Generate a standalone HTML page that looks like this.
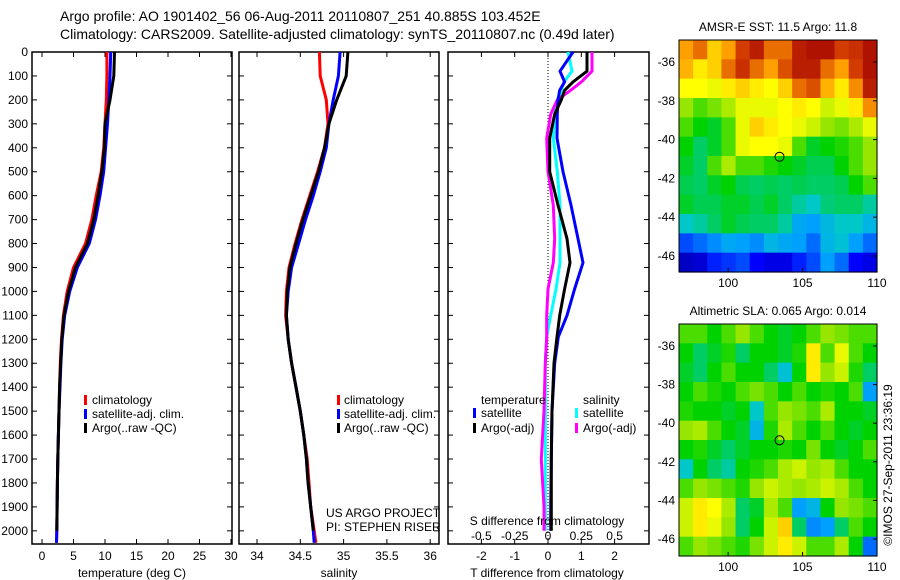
<!DOCTYPE html>
<html><head><meta charset="utf-8">
<style>
html,body{margin:0;padding:0;background:#fff;}
svg{display:block;font-family:"Liberation Sans",sans-serif;}
text{font-size:12px;fill:#000;}
.ttl{font-size:14px;}
</style></head>
<body>
<svg id="fig" width="900" height="580" viewBox="0 0 900 580">
<text class="ttl" x="60" y="21">Argo profile: AO 1901402_56 06-Aug-2011 20110807_251 40.885S 103.452E</text>
<text class="ttl" x="60" y="39">Climatology: CARS2009. Satellite-adjusted climatology: synTS_20110807.nc (0.49d later)</text>
<g id="maps"></g>
<g id="panels"></g>
<text x="0" y="0" transform="translate(892,465) rotate(-90)" text-anchor="middle">©IMOS 27-Sep-2011 23:36:19</text>
</svg>
<script>
// ---- profile data ----
const depth = [0,100,200,300,400,500,600,700,800,900,1000,1100,1200,1300,1400,1500,1600,1700,1800,1900,2000,2050];
const tempClim = [10.3,10.3,10.2,10.0,9.8,9.4,8.6,7.9,6.9,5.0,4.0,3.4,3.1,2.9,2.8,2.7,2.6,2.5,2.45,2.4,2.35,2.3];
const tempSat  = [10.9,10.8,10.6,10.4,10.1,9.8,9.2,8.5,7.5,5.6,4.4,3.6,3.2,3.0,2.85,2.7,2.6,2.5,2.45,2.4,2.35,2.3];
const tempArgo = [11.5,11.4,10.8,10.0,9.9,9.5,8.9,8.2,7.2,5.3,4.2,3.5,3.15,2.95,2.8,2.7,2.6,2.5,2.45,2.4,2.35,null];
const salClim = [34.72,34.73,34.80,34.82,34.78,34.70,34.61,34.52,34.44,34.37,34.34,34.33,34.36,34.40,34.45,34.50,34.54,34.58,34.60,34.62,34.66,34.68];
const salSat  = [34.96,34.94,34.88,34.83,34.80,34.73,34.65,34.56,34.48,34.40,34.36,34.34,34.36,34.40,34.45,34.50,34.54,34.57,34.59,34.62,34.65,34.66];
const salArgo = [35.05,35.03,34.92,34.83,34.78,34.71,34.62,34.53,34.45,34.38,34.35,34.34,34.36,34.40,34.45,34.50,34.54,34.57,34.59,34.62,34.65,null];
const diffDepth = [0,80,125,160,200,260,360,500,640,780,880,990,1100,1190,1300,1500,1700,1900,2000];
const dTsat  = [0.75,0.36,0.5,0.35,0.3,0.28,0.27,0.45,0.69,0.9,1.05,0.8,0.57,0.31,0.2,0.12,0.1,0.08,0.08];
const dTargo = [1.17,1.17,0.75,0.5,0.4,0.2,0.05,0.05,0.3,0.57,0.66,0.5,0.35,0.27,0.18,0.12,0.1,0.1,0.1];
const dSsat  = [0.15,0.18,0.12,0.1,0.07,0.05,0.04,0.07,0.09,0.09,0.09,0.06,0.02,-0.01,-0.02,-0.02,-0.02,-0.02,-0.02];
const dSargo = [0.33,0.33,0.25,0.17,0.07,0.02,-0.01,0,0.04,0.05,0.04,0,-0.01,-0.01,-0.02,-0.03,-0.05,-0.03,-0.03];
const depthTicks = [0,100,200,300,400,500,600,700,800,900,1000,1100,1200,1300,1400,1500,1600,1700,1800,1900,2000];
const tempTicks = [0,5,10,15,20,25,30];
const salTicks = [34,34.5,35,35.5,36];
const salTickLabels = ["34","34.5","35","35.5","36"];
const dTTicks = [-2,-1,0,1,2];
const dSTicks = [-0.5,-0.25,0,0.25,0.5];
const dSTickLabels = ["-0.5","-0.25","0","0.25","0.5"];
// ---- map data (colour index 0..1), rows north->south ----
const sstGrid = [
[.80,.85,.75,.80,.90,.95,.85,.85,.95,.97,.97,.90,.92,.97],
[.78,.72,.75,.85,.92,.85,.80,.88,.95,.95,.85,.80,.90,.97],
[.70,.70,.68,.72,.75,.72,.70,.75,.85,.88,.78,.72,.82,.95],
[.60,.55,.58,.62,.68,.68,.68,.70,.72,.70,.65,.68,.72,.82],
[.55,.50,.48,.55,.68,.75,.72,.70,.68,.65,.60,.58,.62,.68],
[.50,.45,.48,.55,.68,.70,.70,.68,.55,.48,.50,.52,.55,.60],
[.48,.45,.55,.62,.55,.55,.52,.50,.48,.46,.46,.50,.55,.60],
[.46,.45,.48,.50,.46,.45,.46,.45,.46,.45,.45,.46,.50,.55],
[.48,.46,.46,.48,.48,.46,.48,.45,.42,.40,.44,.45,.45,.42],
[.40,.42,.45,.48,.46,.45,.45,.42,.32,.30,.36,.40,.40,.35],
[.22,.25,.28,.32,.30,.28,.35,.32,.30,.25,.35,.38,.30,.25],
[.08,.10,.18,.20,.22,.15,.12,.12,.18,.22,.30,.25,.15,.12]];
const slaGrid = [
[.55,.55,.50,.55,.60,.55,.50,.48,.50,.55,.60,.58,.55,.55],
[.50,.45,.48,.52,.45,.50,.50,.48,.52,.72,.55,.68,.55,.50],
[.48,.45,.50,.55,.50,.50,.45,.38,.50,.72,.60,.65,.52,.45],
[.50,.55,.52,.50,.55,.58,.55,.50,.55,.50,.52,.50,.55,.30],
[.52,.50,.50,.48,.50,.40,.55,.60,.58,.55,.62,.50,.50,.48],
[.60,.62,.55,.50,.48,.35,.52,.62,.55,.50,.55,.50,.48,.50],
[.50,.52,.48,.45,.48,.50,.50,.52,.50,.58,.50,.48,.50,.55],
[.40,.50,.45,.42,.50,.52,.55,.62,.65,.60,.62,.55,.50,.50],
[.55,.60,.58,.55,.52,.60,.65,.62,.60,.62,.65,.62,.55,.50],
[.65,.72,.70,.62,.45,.48,.62,.55,.30,.35,.50,.60,.58,.55],
[.65,.72,.68,.60,.45,.50,.65,.75,.45,.28,.30,.45,.55,.50],
[.55,.60,.58,.55,.52,.58,.65,.72,.65,.55,.55,.62,.50,.25]];
const lonTicks = [100,105,110];
const latTicks = [-36,-38,-40,-42,-44,-46];
const floatLon = 103.452, floatLat = -40.885;

const NS = "http://www.w3.org/2000/svg";
function mk(tag, attrs, parent){const e=document.createElementNS(NS,tag);for(const k in attrs)e.setAttribute(k,attrs[k]);parent.appendChild(e);return e;}
const panels = document.getElementById('panels');
const Y0=52, Y1=544, DMAX=2055;
const yD = d => Y0 + d/DMAX*(Y1-Y0);

function frame(g,x0,x1,xTicks,xs,labels,showDepth,rightTicks){
  const r=mk('rect',{x:x0,y:Y0,width:x1-x0,height:Y1-Y0,fill:'none',stroke:'#000','stroke-width':1.5},g);
  
  
  depthTicks.forEach(d=>{
    const y=yD(d);
    mk('line',{x1:x0,y1:y,x2:x0+5,y2:y,stroke:'#000'},g);
    mk('line',{x1:x1-5,y1:y,x2:x1,y2:y,stroke:'#000'},g);
    if(showDepth){
      const t=mk('text',{x:x0-4,y:y+4,'text-anchor':'end'},g);t.textContent=d;
      
      
    }
  });
  xTicks.forEach((v,i)=>{
    const x=xs(v);
    mk('line',{x1:x,y1:Y0,x2:x,y2:Y0+5,stroke:'#000'},g);
    mk('line',{x1:x,y1:Y1-5,x2:x,y2:Y1,stroke:'#000'},g);
    const t=mk('text',{x:x,y:560,'text-anchor':'middle'},g);t.textContent=labels[i];
    
    
  });
}
function line(g,xs,vals,deps,color,name){
  let pts=[];vals.forEach((v,i)=>{if(v!==null)pts.push(xs(v).toFixed(1)+','+yD(deps[i]).toFixed(1));});
  const p=mk('polyline',{points:pts.join(' '),fill:'none',stroke:color,'stroke-width':3,'stroke-linejoin':'round'},g);
  
  
}
function txt(g,x,y,s,name,anchor){const t=mk('text',{x:x,y:y,'text-anchor':anchor||'start'},g);t.textContent=s;
  
  return t;}
function mark(g,x,y,c){mk('rect',{x:x,y:y-9,width:3,height:10,fill:c},g);}

// Panel 1 temperature
const g1=mk('g',{},panels);


const xT=v=>42+v*6.3;
frame(g1,32,232,tempTicks,xT,tempTicks.map(String),true);
line(g1,xT,tempClim,depth,'#f00','temp-climatology-line');
line(g1,xT,tempSat,depth,'#00f','temp-satellite-line');
line(g1,xT,tempArgo,depth,'#000','temp-argo-line');
mark(g1,84,404,'#f00');txt(g1,92,404,'climatology','legend-climatology');
mark(g1,84,418,'#00f');txt(g1,92,418,'satellite-adj. clim.','legend-satellite');
mark(g1,84,432,'#000');txt(g1,92,432,'Argo(..raw -QC)','legend-argo');
txt(g1,132,577,'temperature (deg C)','temperature-axis-title','middle');

// Panel 2 salinity
const g2=mk('g',{},panels);


const xS=v=>257+(v-34)*86.6;
frame(g2,239,439,salTicks,xS,salTickLabels,false);
line(g2,xS,salClim,depth,'#f00','sal-climatology-line');
line(g2,xS,salSat,depth,'#00f','sal-satellite-line');
line(g2,xS,salArgo,depth,'#000','sal-argo-line');
mark(g2,337,404,'#f00');txt(g2,344,404,'climatology','legend-climatology');
mark(g2,337,418,'#00f');txt(g2,344,418,'satellite-adj. clim.','legend-satellite');
mark(g2,337,432,'#000');txt(g2,344,432,'Argo(..raw -QC)','legend-argo');
txt(g2,326,517,'US ARGO PROJECT','project-label');
txt(g2,326,531,'PI: STEPHEN RISER','pi-label');
txt(g2,339,577,'salinity','salinity-axis-title','middle');

// Panel 3 differences
const g3=mk('g',{},panels);


const xD=v=>548+v*33.3;
const xDS=v=>xD(v*4);
frame(g3,448,649,dTTicks,xD,dTTicks.map(String),false);
mk('line',{x1:xD(0),y1:Y0,x2:xD(0),y2:Y1,stroke:'#000','stroke-dasharray':'1,2'},g3);
line(g3,xDS,dSsat,diffDepth,'#0ff','dsal-satellite-line');
line(g3,xDS,dSargo,diffDepth,'#f0f','dsal-argo-line');
line(g3,xD,dTsat,diffDepth,'#00f','dtemp-satellite-line');
line(g3,xD,dTargo,diffDepth,'#000','dtemp-argo-line');
txt(g3,481,404,'temperature','legend-temperature-heading');
mark(g3,473,417,'#00f');txt(g3,481,417,'satellite','legend-temp-satellite');
mark(g3,473,432,'#000');txt(g3,481,432,'Argo(-adj)','legend-temp-argo');
txt(g3,583,404,'salinity','legend-salinity-heading');
mark(g3,575,417,'#0ff');txt(g3,583,417,'satellite','legend-sal-satellite');
mark(g3,575,432,'#f0f');txt(g3,583,432,'Argo(-adj)','legend-sal-argo');
txt(g3,547,525,'S difference from climatology','s-diff-axis-title','middle');
dSTicks.forEach((v,i)=>txt(g3,xDS(v),540,dSTickLabels[i],'s-diff-tick-label','middle'));
txt(g3,547,577,'T difference from climatology','t-diff-axis-title','middle');

// Maps
const maps=document.getElementById('maps');
const stops=[[0,0,0,128],[.15,0,0,255],[.3,0,160,255],[.4,0,200,200],[.5,0,210,0],[.6,150,230,0],[.7,255,255,0],[.8,255,160,0],[.9,210,60,0],[1,160,0,0]];
function cmap(v){for(let i=1;i<stops.length;i++){if(v<=stops[i][0]){const a=stops[i-1],b=stops[i],t=(v-a[0])/(b[0]-a[0]);
  return 'rgb('+[1,2,3].map(k=>Math.round(a[k]+(b[k]-a[k])*t)).join(',')+')';}}return 'rgb(160,0,0)';}
function drawMap(grid,top,bot,lat36y,lat46y,title,name){
  const g=mk('g',{},maps);
  
  
  const X0=679,X1=877,LON0=96.7,LON1=110;
  const xL=v=>X0+(v-LON0)/(LON1-LON0)*(X1-X0);
  const yL=v=>lat36y+(v+36)/(-10)*(lat46y-lat36y);
  const rows=grid.length,cols=grid[0].length,cw=(X1-X0)/cols,ch=(bot-top)/rows;
  grid.forEach((row,r)=>row.forEach((v,c)=>{
    mk('rect',{x:(X0+c*cw).toFixed(2),y:(top+r*ch).toFixed(2),width:(cw+0.6).toFixed(2),height:(ch+0.6).toFixed(2),fill:cmap(v)},g);
  }));
  mk('rect',{x:X0,y:top,width:X1-X0,height:bot-top,fill:'none',stroke:'#000'},g);
  lonTicks.forEach(v=>{const x=xL(v);mk('line',{x1:x,y1:bot,x2:x,y2:bot-4,stroke:'#000'},g);
    txt(g,x,bot+15,String(v),'lon-tick-label','middle');});
  latTicks.forEach(v=>{const y=yL(v);mk('line',{x1:X1,y1:y,x2:X1-4,y2:y,stroke:'#000'},g);
    txt(g,675,y+4,String(v),'lat-tick-label','end');});
  const c=mk('circle',{cx:xL(floatLon),cy:yL(floatLat),r:4.5,fill:'none',stroke:'#000'},g);
  
  
  txt(g,778,top-9,title,'map-title','middle');
}
drawMap(sstGrid,40,272,62,256,'AMSR-E SST: 11.5 Argo: 11.8','sst-map');
drawMap(slaGrid,324,556,346,539,'Altimetric SLA: 0.065 Argo: 0.014','sla-map');
</script>
</body></html>
